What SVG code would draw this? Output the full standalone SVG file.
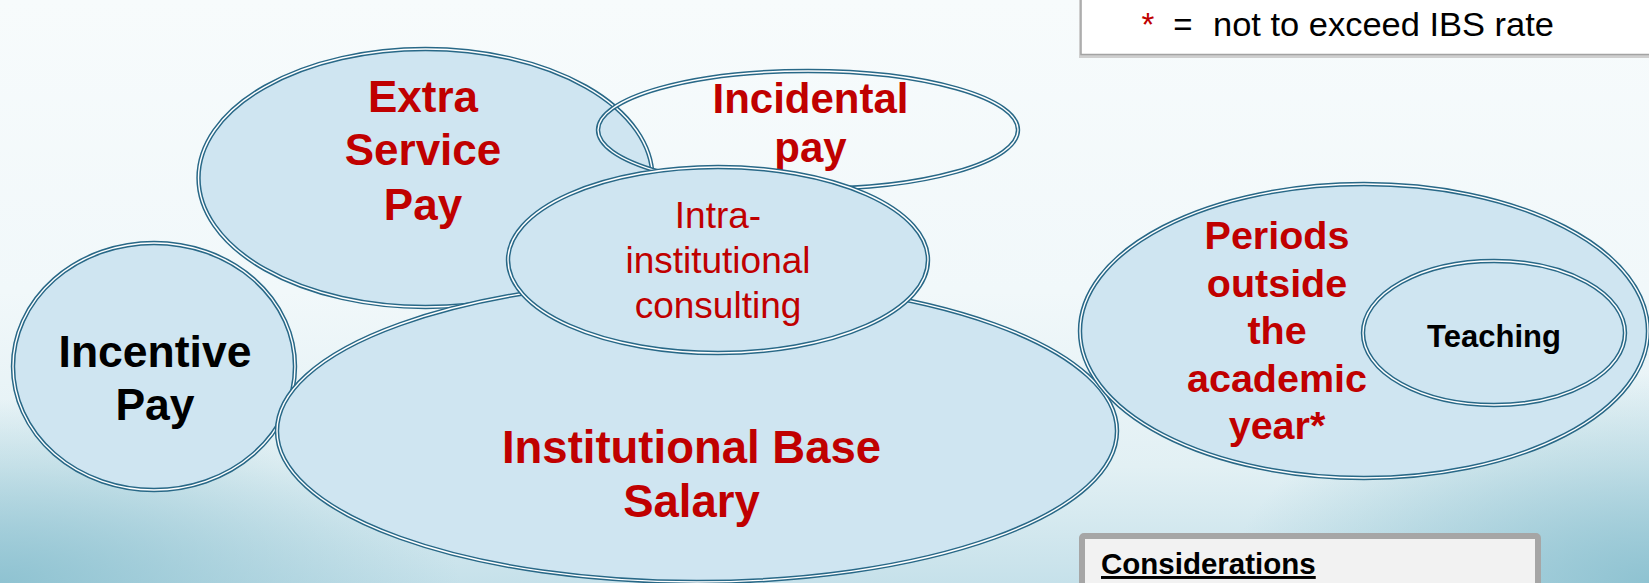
<svg xmlns="http://www.w3.org/2000/svg" width="1649" height="583" viewBox="0 0 1649 583">
  <defs>
    <linearGradient id="bg" x1="0" y1="0" x2="0" y2="1">
      <stop offset="0" stop-color="#f7fbfc"/>
      <stop offset="0.5" stop-color="#f1f8fa"/>
      <stop offset="0.8" stop-color="#e2f0f4"/>
      <stop offset="1" stop-color="#c6e1ea"/>
    </linearGradient>
    <radialGradient id="bl" cx="0" cy="583" r="460" gradientUnits="userSpaceOnUse" gradientTransform="translate(0 583) scale(1 0.4) translate(0 -583)">
      <stop offset="0" stop-color="#8cc1d0" stop-opacity="0.95"/>
      <stop offset="1" stop-color="#8cc1d0" stop-opacity="0"/>
    </radialGradient>
    <radialGradient id="br" cx="1649" cy="583" r="420" gradientUnits="userSpaceOnUse" gradientTransform="translate(0 583) scale(1 0.5) translate(0 -583)">
      <stop offset="0" stop-color="#8cc1d0" stop-opacity="0.95"/>
      <stop offset="1" stop-color="#8cc1d0" stop-opacity="0"/>
    </radialGradient>
  </defs>
  <style>
    .body { fill: #cfe5f1; stroke: #286887; stroke-width: 4.4; }
    .open { fill: none; stroke: #286887; stroke-width: 4.4; }
    .gap { fill: none; stroke: #ffffff; stroke-width: 1.4; }
    text { font-family: "Liberation Sans", Arial, sans-serif; text-anchor: middle; }
    .red { fill: #c00000; font-weight: bold; }
    .redr { fill: #c00000; }
    .blk { fill: #000000; font-weight: bold; }
  </style>

  <rect x="0" y="0" width="1649" height="583" fill="url(#bg)"/>
  <rect x="0" y="250" width="1649" height="333" fill="url(#bl)"/>
  <rect x="0" y="250" width="1649" height="333" fill="url(#br)"/>

  <g id="extra-service-pay">
    <ellipse class="body" cx="425.5" cy="178" rx="227" ry="129"/>
    <ellipse class="gap" cx="425.5" cy="178" rx="227" ry="129"/>
    <text class="red" font-size="44" x="423" y="112">Extra</text>
    <text class="red" font-size="44" x="423" y="165">Service</text>
    <text class="red" font-size="44" x="423" y="220">Pay</text>
  </g>

  <g id="incentive-pay">
    <ellipse class="body" cx="154" cy="366.5" rx="141" ry="123.5"/>
    <ellipse class="gap" cx="154" cy="366.5" rx="141" ry="123.5"/>
    <text class="blk" font-size="44.5" x="155" y="367">Incentive</text>
    <text class="blk" font-size="44.5" x="155" y="420">Pay</text>
  </g>

  <g id="incidental-pay">
    <ellipse class="open" cx="808" cy="130" rx="210" ry="59"/>
    <ellipse class="gap" cx="808" cy="130" rx="210" ry="59"/>
    <text class="red" font-size="42" x="810.5" y="113">Incidental</text>
    <text class="red" font-size="42" x="810.5" y="162">pay</text>
  </g>

  <g id="institutional-base-salary">
    <ellipse class="body" cx="697" cy="431" rx="420" ry="151"/>
    <ellipse class="gap" cx="697" cy="431" rx="420" ry="151"/>
    <text class="red" font-size="45.5" x="691.5" y="463">Institutional Base</text>
    <text class="red" font-size="45.5" x="691.5" y="517">Salary</text>
  </g>

  <g id="intra-institutional-consulting">
    <ellipse class="body" cx="718" cy="260" rx="210" ry="93"/>
    <ellipse class="gap" cx="718" cy="260" rx="210" ry="93"/>
    <text class="redr" font-size="37" x="718" y="228">Intra-</text>
    <text class="redr" font-size="37" x="718" y="273">institutional</text>
    <text class="redr" font-size="37" x="718" y="318">consulting</text>
  </g>

  <g id="periods-outside">
    <ellipse class="body" cx="1364" cy="331" rx="284" ry="147"/>
    <ellipse class="gap" cx="1364" cy="331" rx="284" ry="147"/>
    <text class="red" font-size="39.5" x="1277" y="249">Periods</text>
    <text class="red" font-size="39.5" x="1277" y="296.5">outside</text>
    <text class="red" font-size="39.5" x="1277" y="344">the</text>
    <text class="red" font-size="39.5" x="1277" y="391.5">academic</text>
    <text class="red" font-size="39.5" x="1277" y="439">year*</text>
  </g>

  <g id="teaching">
    <ellipse class="body" cx="1494" cy="333" rx="131" ry="72"/>
    <ellipse class="gap" cx="1494" cy="333" rx="131" ry="72"/>
    <text class="blk" font-size="31" x="1494" y="347">Teaching</text>
  </g>

  <g id="legend-box">
    <rect x="1079" y="-20" width="600" height="78" fill="#cfcfcf" stroke="none"/>
    <rect x="1081" y="-20" width="600" height="74.5" fill="#ffffff" stroke="#a3a3a3" stroke-width="1.5"/>
    <text font-size="33" fill="#c00000" x="1148" y="36">*</text>
    <text font-size="33" fill="#000000" x="1183" y="36">=</text>
    <text font-size="33" fill="#000000" x="1213" y="36" style="text-anchor:start" textLength="341" lengthAdjust="spacingAndGlyphs">not to exceed IBS rate</text>
  </g>

  <g id="considerations-box">
    <rect x="1082" y="536" width="456" height="70" rx="2" fill="#f2f2f2" stroke="#a6a6a6" stroke-width="6"/>
    <text font-size="29.5" x="1101" y="574" style="text-anchor:start;font-weight:bold;text-decoration:underline" fill="#000000">Considerations</text>
  </g>

  <g id="connectors"></g>
</svg>
